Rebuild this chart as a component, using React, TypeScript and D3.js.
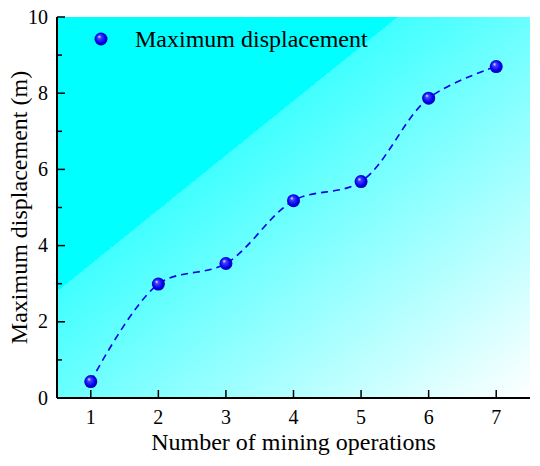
import React from "react";
import * as d3 from "d3";

const operations = [1, 2, 3, 4, 5, 6, 7];
const displacement = [0.43, 2.99, 3.53, 5.18, 5.68, 7.87, 8.7];
const yTicks = [0, 2, 4, 6, 8, 10];
const yMinorTicks = [1, 3, 5, 7, 9];
const seriesName = "Maximum displacement";
const xTitle = "Number of mining operations";
const yTitle = "Maximum displacement (m)";

const W = 540;
const H = 466;
const margin = { top: 17, right: 10, bottom: 68, left: 57 };
const innerW = W - margin.left - margin.right;
const innerH = H - margin.top - margin.bottom;
const serif = { fontFamily: '"Liberation Serif", "Times New Roman", serif' };

export default function App() {
  const x = d3.scaleLinear().domain([0.5, 7.5]).range([0, innerW]);
  const y = d3.scaleLinear().domain([0, 10]).range([innerH, 0]);

  const points = operations.map((o, i) => ({ x: o, y: displacement[i] }));
  const line = d3
    .line<{ x: number; y: number }>()
    .x((d) => x(d.x))
    .y((d) => y(d.y))
    .curve(d3.curveCatmullRom.alpha(0.5));

  const sphere = (cx: number, cy: number, key: string) => (
    <circle key={key} cx={cx} cy={cy} r={6.5} fill="url(#ball)" />
  );

  return (
    <svg
      width={W}
      height={H}
      style={{ position: "absolute", left: 0, top: 0 }}
    >
      <defs>
        <linearGradient id="bg" x1="0" y1="0" x2="1" y2="1">
          <stop offset="0.36" stopColor="#00ffff" />
          <stop offset="0.36" stopColor="#40ffff" />
          <stop offset="1" stopColor="#ffffff" />
        </linearGradient>
        <radialGradient id="ball" cx="0.5" cy="0.5" r="0.55" fx="0.35" fy="0.3">
          <stop offset="0" stopColor="#e8e8ff" />
          <stop offset="0.25" stopColor="#4040ff" />
          <stop offset="0.7" stopColor="#0000f0" />
          <stop offset="1" stopColor="#00009a" />
        </radialGradient>
      </defs>
      <g transform={`translate(${margin.left},${margin.top})`}>
        <rect width={innerW} height={innerH} fill="url(#bg)" />

        {/* axes */}
        <line x1={0} y1={0} x2={0} y2={innerH} stroke="#000" strokeWidth={2} />
        <line
          x1={0}
          y1={innerH}
          x2={innerW}
          y2={innerH}
          stroke="#000"
          strokeWidth={2}
        />
        {yTicks.map((t) => (
          <g key={"yt" + t} transform={`translate(0,${y(t)})`}>
            <line x1={0} x2={8} stroke="#000" strokeWidth={1.5} />
            <text
              x={-9}
              dy="0.33em"
              textAnchor="end"
              fontSize={20}
              fill="#000"
              style={serif}
            >
              {t}
            </text>
          </g>
        ))}
        {yMinorTicks.map((t) => (
          <line
            key={"ym" + t}
            x1={0}
            x2={5}
            y1={y(t)}
            y2={y(t)}
            stroke="#000"
            strokeWidth={1.5}
          />
        ))}
        {operations.map((t) => (
          <g key={"xt" + t} transform={`translate(${x(t)},${innerH})`}>
            <line y1={0} y2={-8} stroke="#000" strokeWidth={1.5} />
            <text
              y={26}
              textAnchor="middle"
              fontSize={20}
              fill="#000"
              style={serif}
            >
              {t}
            </text>
          </g>
        ))}

        {/* series */}
        <path
          d={line(points) ?? ""}
          fill="none"
          stroke="#0000ee"
          strokeWidth={1.6}
          strokeDasharray="7,5"
        />
        {points.map((p, i) => sphere(x(p.x), y(p.y), "p" + i))}

        {/* legend */}
        {sphere(44, 22, "legend")}
        <text x={78} y={30} fontSize={24} fill="#000" style={serif}>
          {seriesName}
        </text>

        {/* titles */}
        <text
          x={innerW / 2}
          y={innerH + 52}
          textAnchor="middle"
          fontSize={24}
          fill="#000"
          style={serif}
        >
          {xTitle}
        </text>
        <text
          transform={`translate(-30,${innerH / 2}) rotate(-90)`}
          textAnchor="middle"
          fontSize={24}
          fill="#000"
          style={serif}
        >
          {yTitle}
        </text>
      </g>
    </svg>
  );
}
